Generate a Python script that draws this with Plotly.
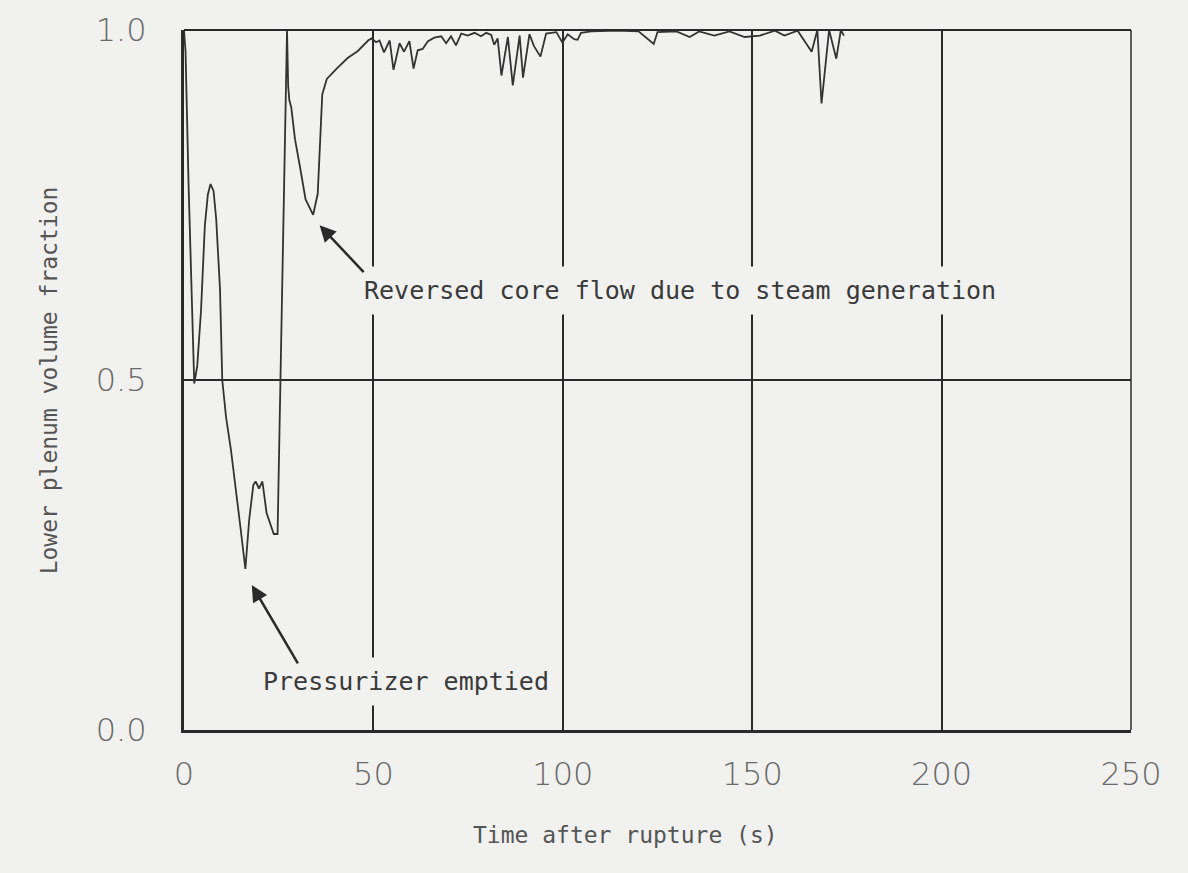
import plotly.graph_objects as go

# ---- data ----
time_s = [0, 0.4, 1.2, 2.0, 2.7, 3.5, 4.5, 5.5, 6.3, 7.0, 7.8, 8.5, 9.5, 10.1, 11.1, 12.4,
          13.6, 15.0, 16.2, 17.2, 18.3, 18.9, 19.8, 20.7, 21.8, 23.7, 24.7, 27.2, 27.5, 27.8,
          28.3, 29.3, 30.6, 32.1, 34.1, 35.3, 36.5, 37.7, 40.5, 43.2, 45.9, 48.6, 49.5, 50.7,
          51.6, 52.8, 54.3, 55.3, 56.9, 58.1, 59.5, 60.6, 61.7, 63.0, 64.4, 66.1, 67.9, 69.2,
          70.5, 71.8, 73.2, 74.9, 76.7, 78.4, 79.8, 81.1, 81.9, 82.8, 83.8, 85.5, 86.8, 88.6,
          89.5, 91.2, 92.4, 94.1, 95.6, 98.3, 99.9, 101.3, 103.0, 103.9, 104.8, 107.5, 114.5,
          120.0, 124.0, 125.0, 130.0, 133.5, 136.0, 140.0, 144.0, 148.0, 152.0, 156.0, 158.5,
          162.0, 165.7, 167.2, 168.3, 170.3, 172.2, 173.4, 174.2]
volume_fraction = [1.0, 0.97, 0.78, 0.62, 0.495, 0.52, 0.60, 0.72, 0.765, 0.78, 0.77, 0.73, 0.63,
                   0.50, 0.447, 0.40, 0.35, 0.285, 0.23, 0.30, 0.35, 0.355, 0.345, 0.355, 0.31,
                   0.28, 0.28, 1.0, 0.92, 0.90, 0.89, 0.844, 0.805, 0.758, 0.736, 0.766, 0.908,
                   0.93, 0.946, 0.96, 0.97, 0.985, 0.988, 0.9825, 0.985, 0.968, 0.985, 0.943,
                   0.981, 0.969, 0.984, 0.945, 0.971, 0.973, 0.984, 0.989, 0.991, 0.981, 0.991,
                   0.978, 0.995, 0.992, 0.996, 0.991, 0.996, 0.993, 0.979, 0.988, 0.935, 0.990,
                   0.921, 0.992, 0.932, 0.994, 0.977, 0.962, 0.995, 0.997, 0.982, 0.994, 0.987,
                   0.986, 0.996, 0.998, 0.999, 0.998, 0.98, 0.997, 0.998, 0.99, 0.998, 0.992,
                   0.998, 0.99, 0.992, 0.999, 0.992, 0.999, 0.969, 1.0, 0.895, 1.0, 0.959, 1.0,
                   0.992]

x_ticks = [0, 50, 100, 150, 200, 250]
x_tick_labels = ["0", "50", "100", "150", "200", "250"]
y_ticks = [0.0, 0.5, 1.0]
y_tick_labels = ["0.0", "0.5", "1.0"]

notes = ["Reversed core flow due to steam generation", "Pressurizer emptied"]
note_x = [131, 58.5]
note_y = [0.628, 0.07]
arrow_head_x = [35.8, 17.9]
arrow_head_y = [0.721, 0.207]
arrow_tail_x = [47.8, 30.3]
arrow_tail_y = [0.652, 0.093]

BG = "#f1f1ef"
INK = "#2a2a2a"

fig = go.Figure()
fig.add_trace(go.Scatter(x=time_s, y=volume_fraction, mode="lines",
                         line=dict(color="#333333", width=1.8), showlegend=False,
                         hoverinfo="skip"))

for txt, tx, ty in zip(notes, note_x, note_y):
    fig.add_annotation(x=tx, y=ty, xref="x", yref="y", text=txt, showarrow=False,
                       font=dict(family="DejaVu Sans Mono", size=25, color="#3a3a3a"),
                       bgcolor=BG, borderpad=9)

for hx, hy, tx, ty in zip(arrow_head_x, arrow_head_y, arrow_tail_x, arrow_tail_y):
    fig.add_annotation(x=hx, y=hy, ax=tx, ay=ty, xref="x", yref="y", axref="x", ayref="y",
                       text="", showarrow=True, arrowhead=2, arrowsize=1.3, arrowwidth=2.5,
                       arrowcolor=INK, standoff=0)

fig.add_annotation(xref="paper", yref="paper", x=-0.158, y=0.5, text="Lower plenum volume fraction",
                   textangle=-90, showarrow=False,
                   font=dict(family="DejaVu Sans Mono", size=23, color="#555555"))
fig.add_annotation(xref="paper", yref="paper", x=0.466, y=-0.172, text="Time after rupture (s)",
                   showarrow=False,
                   font=dict(family="DejaVu Sans Mono", size=23, color="#555555"))

# top and right frame lines
fig.add_shape(type="line", xref="paper", yref="paper", x0=0, x1=1, y0=1, y1=1,
              line=dict(color=INK, width=2))
fig.add_shape(type="line", xref="paper", yref="paper", x0=1, x1=1, y0=0, y1=1,
              line=dict(color=INK, width=1.5))

fig.update_layout(
    width=1188, height=873,
    margin=dict(l=184, r=57, t=30, b=143),
    paper_bgcolor=BG, plot_bgcolor=BG,
    xaxis=dict(range=[0, 250], tickvals=x_ticks, ticktext=x_tick_labels,
               showgrid=True, gridcolor=INK, gridwidth=1.5, zeroline=False,
               showline=True, linecolor=INK, linewidth=3, ticks="",
               ticklabelstandoff=14,
               tickfont=dict(family="DejaVu Sans", size=32, color="#6a6a6a", weight=200)),
    yaxis=dict(range=[0, 1], tickvals=y_ticks, ticktext=y_tick_labels,
               showgrid=True, gridcolor=INK, gridwidth=1.5, zeroline=False,
               showline=True, linecolor=INK, linewidth=3, ticks="",
               ticklabelstandoff=28,
               tickfont=dict(family="DejaVu Sans", size=32, color="#6a6a6a", weight=200)),
)

fig.write_html("out.html")
